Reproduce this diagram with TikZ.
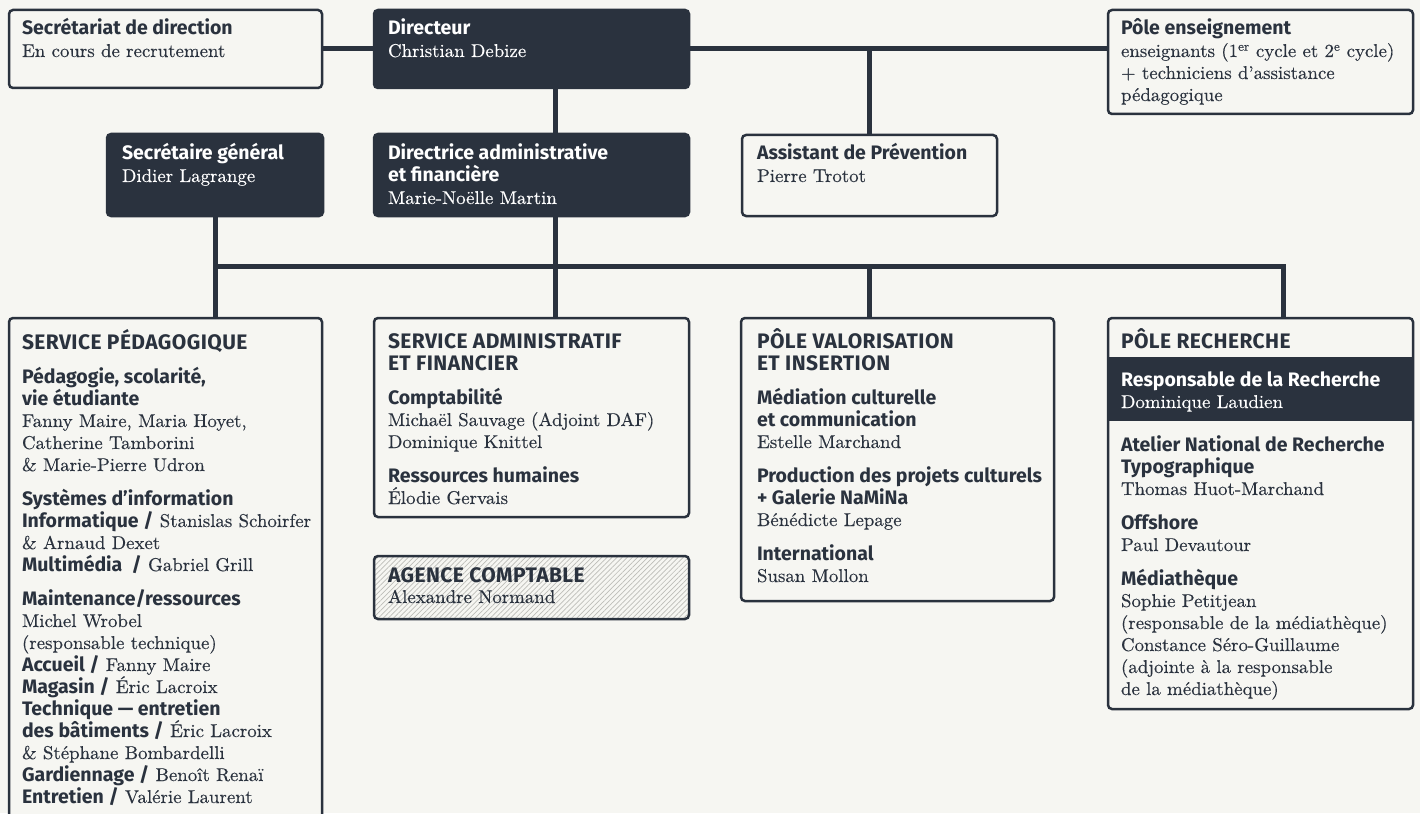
\documentclass[tikz,border=0pt]{standalone}
\usepackage{fontspec}
\setsansfont{Fira Sans}
\newfontfamily\hdfont{Fira Sans}[LetterSpace=2]
\newfontfamily\srfont{lmroman10-regular.otf}[FakeStretch=1.02,FakeBold=0.3]
\usetikzlibrary{patterns.meta}
\definecolor{dk}{HTML}{2A323E}
\definecolor{bg}{HTML}{F6F6F2}
\definecolor{hatch}{HTML}{BDBDB8}
\newcommand\Bf[1]{{\fontsize{19.5}{22}\selectfont\sffamily\bfseries #1}}
\newcommand\Hd[1]{{\fontsize{21}{22}\selectfont\hdfont\bfseries #1}}
\newcommand\Sr{\fontsize{18.5}{22}\selectfont\srfont}
\newcommand\tbcr[1][0pt]{\cr\noalign{\vskip#1}}
\newcommand\tb[1]{\Sr\vtop{\baselineskip=22pt\lineskiplimit=-100pt\lineskip=0pt\let\\\tbcr\halign{##\hfil\cr#1\crcr}}}
\newcommand\bx[6]{\node[#2, anchor=north west, minimum width={(#5-#3)*1pt}, minimum height={(#6-#4)*1pt}, inner sep=0pt, outer sep=0pt] (#1) at (#3,#4) {};}
\tikzset{
  dkbox/.style={draw=dk, fill=dk, rounded corners=4pt, line width=2.5pt},
  ltbox/.style={draw=dk, fill=bg, rounded corners=4pt, line width=2.5pt},
  hbox/.style={draw=dk, rounded corners=4pt, line width=2.5pt, pattern={Lines[angle=45,distance=3.6pt,line width=0.7pt]}, pattern color=hatch},
  band/.style={fill=dk, draw=none},
  conn/.style={draw=dk, line width=5pt, line join=miter},
  txt/.style={anchor=base west, inner sep=0pt, outer sep=0pt, text=dk},
  wtxt/.style={txt, text=white},
}
\begin{document}
\begin{tikzpicture}[x=1pt,y=-1pt]
\fill[bg] (0,0) rectangle (1420,813);
\useasboundingbox (0,0) rectangle (1420,813);
\clip (0,0) rectangle (1420,813);
% coordinates for connector routes
\coordinate (ja) at (869,49);
\coordinate (xd) at (555,0);
\coordinate (bl) at (215,266);
\coordinate (br) at (1283,266);
\coordinate (xv) at (869,266);
% boxes
\bx{secr}{ltbox}{9}{10}{322}{88}
\bx{dir}{dkbox}{374}{10}{689}{88}
\bx{pole}{ltbox}{1108}{10}{1413}{114}
\bx{sg}{dkbox}{107}{134}{323}{216}
\bx{dira}{dkbox}{374}{134}{689}{216}
\bx{asst}{ltbox}{742}{135}{997}{216}
\bx{sp}{ltbox}{9}{318}{322}{840}
\bx{sa}{ltbox}{374}{318}{689}{517}
\bx{ag}{hbox}{374}{556}{689}{619}
\bx{pv}{ltbox}{741}{318}{1054}{601}
\bx{pr}{ltbox}{1108}{318}{1413}{709}
\bx{prb}{band}{1108}{357}{1413}{421}
% connectors
\draw[conn] (secr.east) -- (dir.west);
\draw[conn] (dir.east) -- (dir.east -| pole.west);
\draw[conn] (ja) -- (ja |- asst.north);
\draw[conn] (xd |- dir.south) -- (xd |- dira.north);
\draw[conn] (sg.south) -- (sg.south |- sp.north);
\draw[conn] (xd |- dira.south) -- (xd |- bl);
\draw[conn] (bl) -- (br) -- (br |- pr.north);
\draw[conn] (xd |- bl) -- (xd |- sa.north);
\draw[conn] (xv) -- (xv |- pv.north);
% texts
\node[txt] (t-secr) at (22,35) {\tb{\Bf{Secrétariat de direction}\\ En cours de recrutement}};
\node[wtxt] (t-dir) at (388,35) {\tb{\Bf{Directeur}\\ Christian Debize}};
\node[txt] (t-pole) at (1121,35) {\tb{\Bf{Pôle enseignement}\\ enseignants (1\textsuperscript{er} cycle et 2\textsuperscript{e} cycle)\\ + techniciens d’assistance\\ pédagogique}};
\node[wtxt] (t-sg) at (122,160) {\tb{\Bf{Secrétaire général}\\ Didier Lagrange}};
\node[wtxt] (t-dira) at (388,160) {\tb{\Bf{Directrice administrative}\\ \Bf{et financière}\\ Marie-Noëlle Martin}};
\node[txt] (t-asst) at (757,160) {\tb{\Bf{Assistant de Prévention}\\ Pierre Trotot}};
\node[txt] (t-sp) at (22,349) {\tb{\Hd{SERVICE PÉDAGOGIQUE}\\[12pt]
\Bf{Pédagogie, scolarité,}\\ \Bf{vie étudiante}\\ Fanny Maire, Maria Hoyet,\\ Catherine Tamborini\\ \& Marie-Pierre Udron\\[12pt]
\Bf{Systèmes d’information}\\ \Bf{Informatique /} Stanislas Schoirfer\\ \& Arnaud Dexet\\ \Bf{Multimédia~ /} Gabriel Grill\\[12pt]
\Bf{Maintenance/ressources}\\ Michel Wrobel\\ (responsable technique)\\ \Bf{Accueil /} Fanny Maire\\ \Bf{Magasin /} Éric Lacroix\\ \Bf{Technique — entretien}\\ \Bf{des bâtiments /} Éric Lacroix\\ \& Stéphane Bombardelli\\ \Bf{Gardiennage /} Benoît Renaï\\ \Bf{Entretien /} Valérie Laurent}};
\node[txt] (t-sa) at (388,348) {\tb{\Hd{SERVICE ADMINISTRATIF}\\ \Hd{ET FINANCIER}\\[12pt]
\Bf{Comptabilité}\\ Michaël Sauvage (Adjoint DAF)\\ Dominique Knittel\\[12pt]
\Bf{Ressources humaines}\\ Élodie Gervais}};
\node[txt] (t-ag) at (388,582) {\tb{\Hd{AGENCE COMPTABLE}\\[-1pt] Alexandre Normand}};
\node[txt] (t-pv) at (757,348) {\tb{\Hd{PÔLE VALORISATION}\\ \Hd{ET INSERTION}\\[12pt]
\Bf{Médiation culturelle}\\ \Bf{et communication}\\ Estelle Marchand\\[12pt]
\Bf{Production des projets culturels}\\ \Bf{+ Galerie NaMiNa}\\ Bénédicte Lepage\\[12pt]
\Bf{International}\\ Susan Mollon}};
\node[txt] (t-pr) at (1121,348) {\tb{\Hd{PÔLE RECHERCHE}}};
\node[wtxt] (t-prb) at (1121,386) {\tb{\Bf{Responsable de la Recherche}\\ Dominique Laudien}};
\node[txt] (t-prc) at (1121,451) {\tb{\Bf{Atelier National de Recherche}\\ \Bf{Typographique}\\ Thomas Huot-Marchand\\[12pt]
\Bf{Offshore}\\ Paul Devautour\\[12pt]
\Bf{Médiathèque}\\ Sophie Petitjean\\ (responsable de la médiathèque)\\ Constance Séro-Guillaume\\ (adjointe à la responsable\\ de la médiathèque)}};
\end{tikzpicture}
\end{document}
